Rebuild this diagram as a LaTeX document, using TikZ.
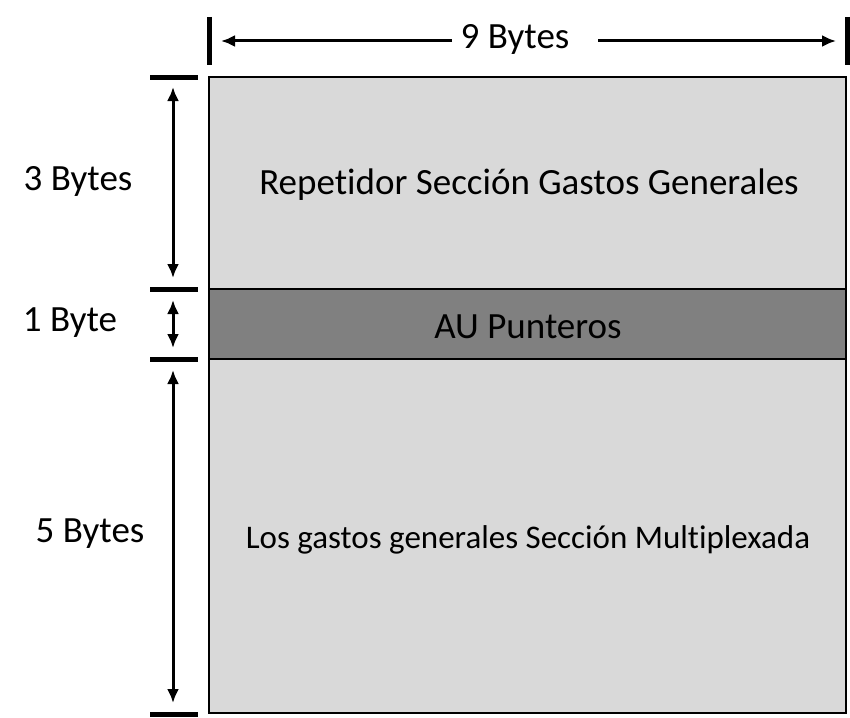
\documentclass[tikz,border=0pt]{standalone}
\usepackage{fontspec}
\setmainfont{Carlito}[Ligatures=NoCommon]
\usetikzlibrary{arrows.meta}

\tikzset{
  dim/.style={line width=3pt, -{Latex[length=14pt,width=12pt]}},
  dimboth/.style={line width=3pt, {Latex[length=14pt,width=12pt]}-{Latex[length=14pt,width=12pt]}},
  tick/.style={line width=5pt},
  big/.style={font=\fontsize{37}{44}\selectfont},
  small/.style={font=\fontsize{33}{40}\selectfont}
}

\begin{document}
\begin{tikzpicture}[x=1pt,y=-1pt]
    \useasboundingbox (0,0) rectangle (850,717);

    % frame sections
    \draw[line width=2pt, fill={rgb,255:red,217;green,217;blue,217}] (209,77) rectangle (846,289);
    \draw[line width=2pt, fill={rgb,255:red,128;green,128;blue,128}] (209,289) rectangle (846,359);
    \draw[line width=2pt, fill={rgb,255:red,217;green,217;blue,217}] (209,359) rectangle (846,713);
    \node[big] (RSOH) at (529,185) {Repetidor Sección Gastos Generales};
    \node[big] (AUP) at (528,327) {AU Punteros};
    \node[small] (MSOH) at (528,540) {Los gastos generales Sección Multiplexada};

    % width
    \draw[tick] (209,17) -- (209,65);
    \draw[tick] (847,17) -- (847,65);
    \node[big] (W) at (515,39) {9 Bytes};
    \coordinate (WL) at (221,41);
    \coordinate (WR) at (836,41);
    \draw[dim] (452,41) -- (WL);
    \draw[dim] (598,41) -- (WR);

    % rows
    \foreach \y in {77,289,359,714}
        \draw[tick] (150,\y) -- (198,\y);
    \coordinate (A1) at (173,87);
    \coordinate (A2) at (173,278);
    \coordinate (B1) at (173,300);
    \coordinate (B2) at (173,348);
    \coordinate (C1) at (173,370);
    \coordinate (C2) at (173,703);
    \draw[dimboth] (A1) -- (A2);
    \draw[dimboth] (B1) -- (B2);
    \draw[dimboth] (C1) -- (C2);
    \node[big] (H3) at (78,181) {3 Bytes};
    \node[big] (H1) at (70,323) {1 Byte};
    \node[big] (H5) at (90,534) {5 Bytes};

\end{tikzpicture}
\end{document}
